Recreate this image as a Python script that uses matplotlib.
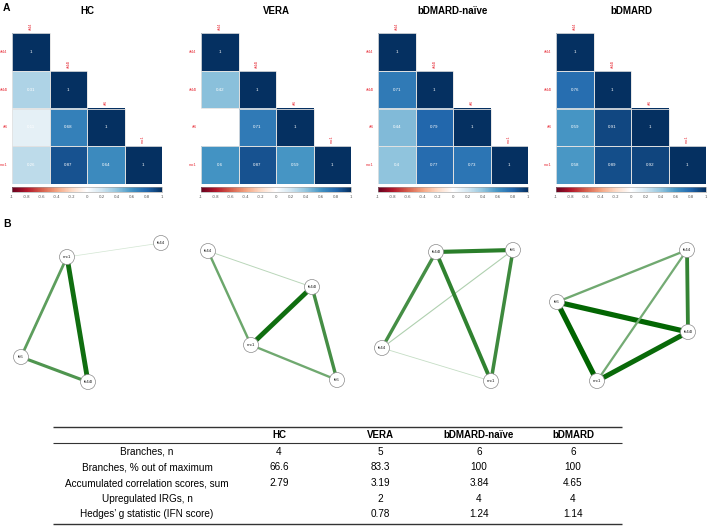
import numpy as np
import matplotlib
matplotlib.use("Agg")
import matplotlib.pyplot as plt
from matplotlib.colors import LinearSegmentedColormap, to_rgb
from matplotlib.patches import Circle, Rectangle

W, H = 708, 526

GENES = ["ifi44", "ifi44l", "ifi6", "mx1"]
GROUPS = ["HC", "VERA", "bDMARD-naïve", "bDMARD"]

# lower triangle, order: (ifi44l,ifi44) (ifi6,ifi44) (ifi6,ifi44l) (mx1,ifi44) (mx1,ifi44l) (mx1,ifi6)
PAIRS = [(1, 0), (2, 0), (2, 1), (3, 0), (3, 1), (3, 2)]
CORR_HC = [0.31, 0.11, 0.68, 0.26, 0.87, 0.64]
CORR_VERA = [0.42, np.nan, 0.71, 0.60, 0.87, 0.59]
CORR_NAIVE = [0.71, 0.44, 0.79, 0.40, 0.77, 0.73]
CORR_BDMARD = [0.76, 0.59, 0.91, 0.58, 0.89, 0.92]
CORRS = [CORR_HC, CORR_VERA, CORR_NAIVE, CORR_BDMARD]

# which pairs appear as network branches
EDGES_HC = [False, False, True, True, True, True]
EDGES_VERA = [True, False, True, True, True, True]
EDGES_NAIVE = [True, True, True, True, True, True]
EDGES_BDMARD = [True, True, True, True, True, True]
EDGES = [EDGES_HC, EDGES_VERA, EDGES_NAIVE, EDGES_BDMARD]

ROW_LABELS = ["Branches, n", "Branches, % out of maximum",
              "Accumulated correlation scores, sum", "Upregulated IRGs, n",
              "Hedges\u2019 g statistic (IFN score)"]
TAB_HC = ["4", "66.6", "2.79", "", ""]
TAB_VERA = ["5", "83.3", "3.19", "2", "0.78"]
TAB_NAIVE = ["6", "100", "3.84", "4", "1.24"]
TAB_BDMARD = ["6", "100", "4.65", "4", "1.14"]
TABLE = [TAB_HC, TAB_VERA, TAB_NAIVE, TAB_BDMARD]

# network layouts (pixel positions of nodes, ifi44, ifi44l, ifi6, mx1)
LAYOUTS = [
    [(161, 243), (88, 382), (21, 357), (67, 257)],
    [(208, 251), (312, 287), (337, 380), (251, 345)],
    [(382, 348), (436, 252), (513, 250), (491, 381)],
    [(687, 250), (688, 332), (557, 302), (597, 381)],
]
GRID_X = [12, 201, 378, 556]

cmap = LinearSegmentedColormap.from_list("corr", [
    "#67001F", "#B2182B", "#D6604D", "#F4A582", "#FDDBC7", "#FFFFFF",
    "#D1E5F0", "#92C5DE", "#4393C3", "#2166AC", "#053061"])

fig = plt.figure(figsize=(W / 100, H / 100), dpi=100)
RED = "#e8323c"
SANS = ["Liberation Sans", "DejaVu Sans"]


def fig_rect(x0, y0, x1, y1):
    return [x0 / W, 1 - y1 / H, (x1 - x0) / W, (y1 - y0) / H]


for g, name in enumerate(GROUPS):
    x0 = GRID_X[g]
    mat = np.full((4, 4), np.nan)
    for i in range(4):
        mat[i, i] = 1.0
    for (r, c), v in zip(PAIRS, CORRS[g]):
        mat[r, c] = v
    ax = fig.add_axes(fig_rect(x0, 33, x0 + 150, 184))
    m = ax.pcolormesh(np.ma.masked_invalid(mat), cmap=cmap, vmin=-1, vmax=1,
                      edgecolor="none")
    ax.set_xlim(0, 4)
    ax.set_ylim(4, 0)
    ax.axis("off")
    for i in range(4):
        for j in range(i + 1):
            v = mat[i, j]
            if np.isnan(v):
                continue
            ax.add_patch(Rectangle((j, i), 1, 1, fill=False,
                                   edgecolor="#e2e2e2", lw=0.6))
            txt = "1" if v == 1 else f"{v:.2f}".rstrip("0")
            ax.text(j + 0.5, i + 0.5, txt, ha="center", va="center",
                    color="white", fontsize=3.2, family=SANS)
        ax.text(-0.12, i + 0.5, GENES[i], ha="right", va="center",
                color=RED, fontsize=3, family=SANS)
        ax.text(i + 0.5, i - 0.08, GENES[i], ha="center", va="bottom",
                rotation=90, color=RED, fontsize=3, family=SANS, clip_on=False)
    ax.set_title(name, fontsize=7, fontweight="bold", family=SANS, pad=14)

    cax = fig.add_axes(fig_rect(x0, 187, x0 + 150, 192))
    cb = fig.colorbar(m, cax=cax, orientation="horizontal")
    cb.set_ticks(np.linspace(-1, 1, 11))
    cb.set_ticklabels(["-1", "-0.8", "-0.6", "-0.4", "-0.2", "0", "0.2",
                       "0.4", "0.6", "0.8", "1"])
    cax.tick_params(length=0, labelsize=2.8, labelcolor="#555555", pad=2)
    cb.outline.set_linewidth(0.4)
    cb.outline.set_edgecolor("#999999")

ov = fig.add_axes([0, 0, 1, 1])
ov.set_xlim(0, W)
ov.set_ylim(H, 0)
ov.axis("off")

ov.text(3, 8, "A", fontsize=7.5, fontweight="bold", family=SANS, va="center")
ov.text(3, 224, "B", fontsize=7.5, fontweight="bold", family=SANS, va="center")

light = np.array(to_rgb("#d3e6d3"))
dark = np.array(to_rgb("#006400"))
for g in range(4):
    pos = LAYOUTS[g]
    for (r, c), v, on in zip(PAIRS, CORRS[g], EDGES[g]):
        if not on or np.isnan(v):
            continue
        t = float(np.clip((v - 0.38) / (0.92 - 0.38), 0, 1))
        col = light + (dark - light) * t ** 0.8
        lw = (0.7 + 4.6 * t ** 1.1) / 1.39
        ov.plot([pos[r][0], pos[c][0]], [pos[r][1], pos[c][1]],
                color=col, lw=lw, solid_capstyle="butt", zorder=2)
    for k, (x, y) in enumerate(pos):
        ov.add_patch(Circle((x, y), 7.5, facecolor="white",
                            edgecolor="#8a8a8a", lw=0.5, zorder=3))
        ov.text(x, y, GENES[k], ha="center", va="center", fontsize=3.2,
                family=SANS, color="#222222", zorder=4)

# table
TX0, TX1 = 53, 622
for y, lw in [(427, 1.0), (443, 0.8), (524, 1.0)]:
    ov.hlines(y, TX0, TX1, color="#333333", lw=lw)
COL_X = [279, 380, 479, 573]
for g, name in enumerate(GROUPS):
    ov.text(COL_X[g], 435, name, ha="center", va="center", fontsize=7,
            fontweight="bold", family=SANS)
ROW_Y = [452, 467, 483, 499, 514]
for i, lab in enumerate(ROW_LABELS):
    ov.text(147, ROW_Y[i], lab, ha="center", va="center", fontsize=7.2,
            family=SANS)
    for g in range(4):
        ov.text(COL_X[g], ROW_Y[i], TABLE[g][i], ha="center", va="center",
                fontsize=7.2, family=SANS)

fig.savefig("out.png", dpi=100)
